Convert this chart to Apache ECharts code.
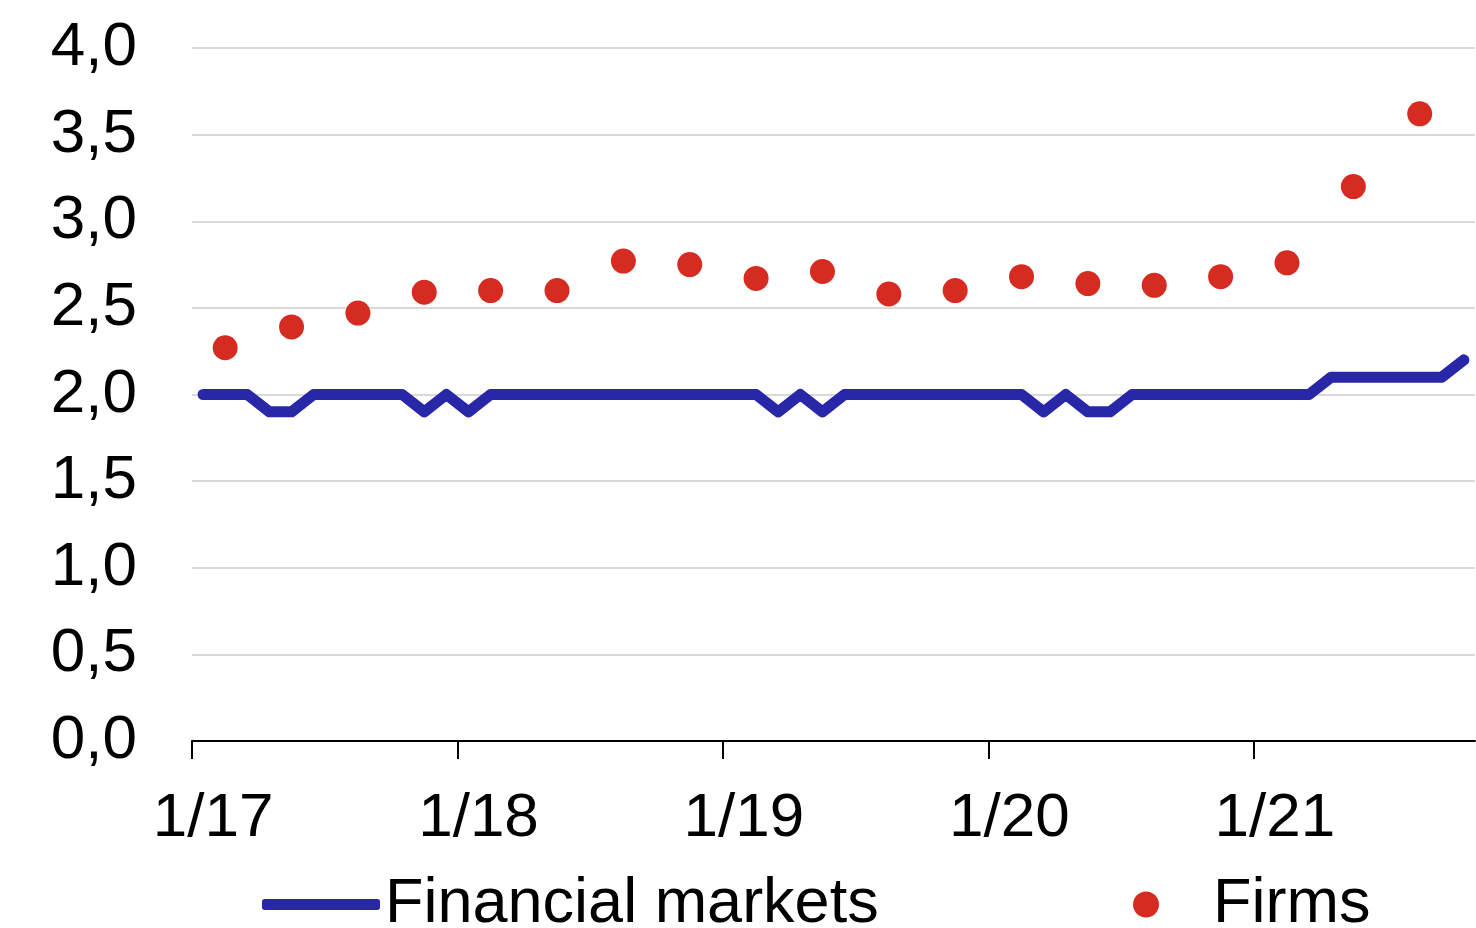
<!DOCTYPE html>
<html>
<head>
<meta charset="utf-8">
<script src="https://cdn.jsdelivr.net/npm/echarts@6/dist/echarts.min.js"></script>
<style>html,body{margin:0;padding:0;background:#fff;}#c{width:1476px;height:928px;}</style>
</head>
<body>
<div id="c"></div>
<script>
// Monthly categories Jan 2017 .. Oct 2021
const years = ['17','18','19','20','21'];
const months = [];
for (const y of years) { for (let m = 1; m <= 12; m++) { if (y === '21' && m > 10) break; months.push(m + '/' + y); } }

// Financial markets (monthly)
const financialMarkets = [
  2.0, 2.0, 2.0, 1.9, 1.9, 2.0, 2.0, 2.0, 2.0, 2.0, 1.9, 2.0,   // 2017
  1.9, 2.0, 2.0, 2.0, 2.0, 2.0, 2.0, 2.0, 2.0, 2.0, 2.0, 2.0,   // 2018
  2.0, 2.0, 1.9, 2.0, 1.9, 2.0, 2.0, 2.0, 2.0, 2.0, 2.0, 2.0,   // 2019
  2.0, 2.0, 1.9, 2.0, 1.9, 1.9, 2.0, 2.0, 2.0, 2.0, 2.0, 2.0,   // 2020
  2.0, 2.0, 2.0, 2.1, 2.1, 2.1, 2.1, 2.1, 2.1, 2.2              // 2021
];

// Firms (quarterly survey, placed at middle month of each quarter)
const firmsMonths = ['2/17','5/17','8/17','11/17','2/18','5/18','8/18','11/18','2/19','5/19','8/19','11/19','2/20','5/20','8/20','11/20','2/21','5/21','8/21'];
const firmsValues = [2.27, 2.39, 2.47, 2.59, 2.60, 2.60, 2.77, 2.75, 2.67, 2.71, 2.58, 2.60, 2.68, 2.64, 2.63, 2.68, 2.76, 3.20, 3.62];

const yTicks = { min: 0, max: 4, interval: 0.5 };
// Year boundary ticks (month index of each January)
const yearTickMonths = [0, 12, 24, 36, 48];

const firmsData = firmsMonths.map((m, i) => [m, firmsValues[i]]);

const FONT = 'Liberation Sans, Arial, sans-serif';
const FS = 62;
const LFS = 63;
const chart = echarts.init(document.getElementById('c'), null, { renderer: 'canvas' });
chart.setOption({
  animation: false,
  backgroundColor: '#ffffff',
  grid: { left: 192, right: 1, top: 48, bottom: 187, containLabel: false },
  xAxis: [
    {
      type: 'category',
      data: months,
      boundaryGap: true,
      axisLine: { show: true, lineStyle: { color: '#000', width: 2 } },
      axisTick: { show: false },
      axisLabel: {
        interval: (i) => i % 12 === 0,
        fontFamily: FONT, fontSize: FS, color: '#000', margin: 47,
        padding: [0, 0, 0, 20]
      },
      splitLine: { show: false }
    },
    {
      type: 'value',
      position: 'bottom',
      min: 0, max: months.length,
      axisLine: { show: false },
      axisTick: { show: true, length: 18, lineStyle: { color: '#000', width: 2 }, customValues: yearTickMonths },
      axisLabel: { show: false },
      splitLine: { show: false }
    }
  ],
  yAxis: {
    type: 'value',
    min: yTicks.min, max: yTicks.max, interval: yTicks.interval,
    axisLine: { show: false },
    axisTick: { show: false },
    axisLabel: {
      fontFamily: FONT, fontSize: FS, color: '#000', margin: 55,
      formatter: (v) => v.toFixed(1).replace('.', ',')
    },
    splitLine: { show: true, lineStyle: { color: '#d9d9d9', width: 2 } }
  },
  legend: [
    {
      left: 257, top: 868,
      itemWidth: 118, itemHeight: 11, itemGap: 0,
      textStyle: { fontFamily: FONT, fontSize: LFS, color: '#000' },
      data: [{ name: 'Financial markets', icon: 'roundRect', itemStyle: { color: '#2727a8' } }]
    },
    {
      left: 1128, top: 868,
      itemWidth: 26, itemHeight: 26, itemGap: 0,
      textStyle: { fontFamily: FONT, fontSize: LFS, color: '#000', padding: [0, 0, 0, 49] },
      data: [{ name: 'Firms', icon: 'circle', itemStyle: { color: '#d62b20', opacity: 1 } }]
    }
  ],
  series: [
    {
      name: 'Financial markets',
      type: 'line',
      data: financialMarkets,
      symbol: 'none',
      lineStyle: { color: '#2727a8', width: 11, cap: 'round', join: 'round' },
      itemStyle: { color: '#2727a8' },
      z: 2
    },
    {
      name: 'Firms',
      type: 'scatter',
      data: firmsData,
      symbol: 'circle',
      symbolSize: 25,
      itemStyle: { color: '#d62b20', opacity: 1 },
      z: 3
    }
  ]
});
</script>
</body>
</html>
